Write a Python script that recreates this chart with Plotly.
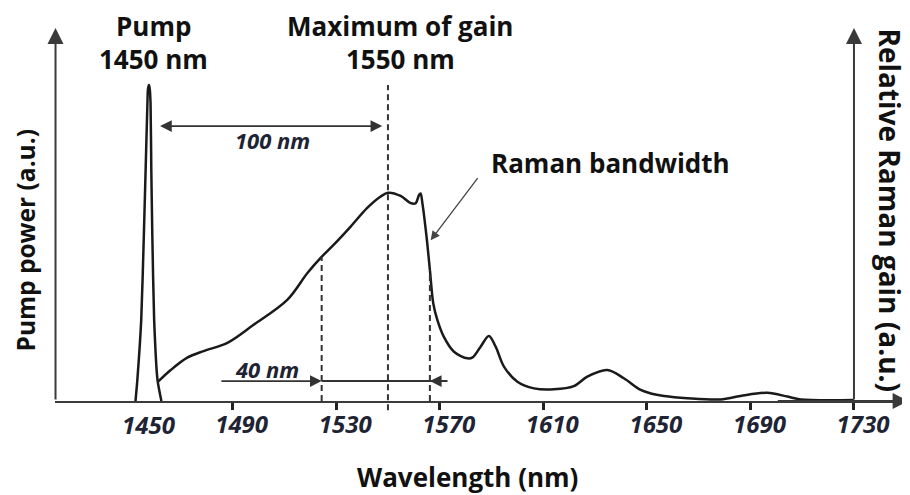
import plotly.graph_objects as go
import numpy as np

# ---------------- data ----------------
pump_wl = [1452.5, 1453.2, 1454.7, 1455.7, 1456.4, 1457.1, 1457.3, 1457.7,
           1458.0, 1458.3, 1458.6, 1459.0, 1459.7, 1461.0, 1462.5]
pump_power = [0.0, 0.066, 0.256, 0.519, 0.731, 0.943, 0.987, 1.0,
              0.987, 0.943, 0.731, 0.519, 0.256, 0.066, 0.0]

gain_wl = [1461.2, 1466.1, 1472.5, 1478.8, 1488.0, 1498.1, 1511.1, 1518.9,
           1524.0, 1529.0, 1535.6, 1542.0, 1547.2, 1550.0, 1554.9, 1558.8,
           1560.7, 1562.0, 1562.6, 1563.3, 1564.9, 1566.2, 1567.5, 1569.1,
           1571.6, 1575.5, 1580.7, 1582.7, 1585.8, 1589.0, 1591.6, 1594.8,
           1600.0, 1606.4, 1614.1, 1621.8, 1627.0, 1634.7, 1641.1, 1647.6,
           1651.5, 1656.6, 1665.6, 1678.5, 1686.2, 1696.5, 1704.3, 1709.4,
           1729.9]
gain_val = [0.061, 0.098, 0.137, 0.158, 0.184, 0.241, 0.320, 0.405,
            0.453, 0.494, 0.552, 0.611, 0.647, 0.659, 0.649, 0.626,
            0.626, 0.652, 0.657, 0.626, 0.520, 0.415, 0.309, 0.256,
            0.203, 0.156, 0.135, 0.138, 0.172, 0.206, 0.172, 0.109,
            0.061, 0.040, 0.037, 0.047, 0.077, 0.098, 0.072, 0.035,
            0.024, 0.016, 0.009, 0.005, 0.016, 0.026, 0.014, 0.005,
            0.003]

tick_values = [1490, 1530, 1570, 1610, 1650, 1690, 1730]
tick_labels = ["1490", "1530", "1570", "1610", "1650", "1690", "1730"]
pump_label = "1450"

gain_max_wl = 1550.0
bw_left_wl = 1524.4
bw_right_wl = 1566.2

# ---------------- geometry helpers ----------------
X0, X1 = 1421.4, 1751.64
Y0, Y1 = 0.0, 1.2057
x_axis_left = 1421.6
x_axis_right = 1730.0
y_arrow_top = 1.18

BOLD = dict(family="Open Sans", size=26, color="#111111", weight="bold")
ITAL = dict(family="Open Sans", size=24, color="#1e2434", style="italic", weight="bold")
LINE = "#1a1a1a"
AX = "#3a3a3a"


def yp(v):
    return (v - Y0) / (Y1 - Y0)


fig = go.Figure()

fig.add_trace(go.Scatter(x=pump_wl, y=pump_power, mode="lines",
                         line=dict(color=LINE, width=2.5, shape="spline", smoothing=0.6),
                         showlegend=False, hoverinfo="skip"))
fig.add_trace(go.Scatter(x=gain_wl, y=gain_val, mode="lines",
                         line=dict(color=LINE, width=2.5, shape="spline", smoothing=0.95),
                         showlegend=False, hoverinfo="skip"))

shapes = []
# dashed lines
shapes.append(dict(type="line", xref="x", yref="paper", x0=gain_max_wl, x1=gain_max_wl,
                   y0=-0.024, y1=yp(1.0), line=dict(color="#333", width=2, dash="6px,4px")))
for wl in (bw_left_wl, bw_right_wl):
    top = float(np.interp(wl, gain_wl, gain_val))
    shapes.append(dict(type="line", xref="x", yref="y", x0=wl, x1=wl, y0=0, y1=top,
                       line=dict(color="#333", width=2, dash="6px,4px")))
# 40 nm connecting segment
shapes.append(dict(type="line", xref="x", yref="y", x0=bw_left_wl, x1=bw_right_wl + 6.8,
                   y0=0.063, y1=0.063, line=dict(color="#333", width=2)))

ann = []


def arrow(x_head, y_head, x_tail, y_tail, width=2, size=1.2, head=2, color="#333", side="end"):
    ann.append(dict(x=x_head, y=y_head, ax=x_tail, ay=y_tail, xref="x", yref="y",
                    axref="x", ayref="y", text="", showarrow=True, arrowhead=head,
                    startarrowhead=head, arrowsize=size, startarrowsize=size,
                    arrowwidth=width, arrowcolor=color, arrowside=side))


# axes arrows
arrow(x_axis_left, y_arrow_top, x_axis_left, 0, width=2, size=1.6, color=AX)
arrow(x_axis_right, y_arrow_top, x_axis_right, 0, width=2, size=1.6, color=AX)
arrow(1751.1, 0, 1700, 0, width=2, size=1.6, color=AX)

# 100 nm double arrow
arrow(1547.8, 0.870, 1461.4, 0.870, width=1.8, size=1.3, side="end+start")
# 40 nm arrows
arrow(bw_left_wl, 0.063, 1485.1, 0.063, width=1.8, size=1.3)
arrow(bw_right_wl, 0.063, bw_right_wl + 6.8, 0.063, width=1.8, size=1.3)
# Raman bandwidth pointer
arrow(1566.5, 0.509, 1585.1, 0.710, width=1.3, size=1.4, color="#444")


def text(s, x, y, font, xref="x", yref="y", angle=0):
    ann.append(dict(text=s, x=x, y=y, xref=xref, yref=yref, showarrow=False,
                    font=font, textangle=angle, xanchor="center", yanchor="middle"))


text("Pump", 1459.5, 1.187, BOLD)
text("1450 nm", 1459.5, 1.081, BOLD)
text("Maximum of gain", 1554.5, 1.187, BOLD)
text("1550 nm", 1554.9, 1.081, BOLD)
text("Raman bandwidth", 1636.0, 0.753, BOLD)
text("100 nm", 1505.3, 0.826, dict(ITAL, size=22))
text("40 nm", 1503.1, 0.100, dict(ITAL, size=22))
text(pump_label, 1457.7, -0.0617, ITAL, yref="paper")
text("Wavelength (nm)", 0.4825, -0.2, BOLD, xref="paper", yref="paper")
text("Pump power (a.u.)", -0.0345, 0.4226, dict(BOLD, size=24.5), xref="paper", yref="paper", angle=-90)
text("Relative Raman gain (a.u.)", 1743.8, 0.604, dict(BOLD, size=28), angle=90)

# page body adds an 8px margin, so the figure is 8px smaller and margins shifted
fig.update_layout(
    width=902, height=487,
    margin=dict(l=47, r=0, t=12, b=94),
    paper_bgcolor="white", plot_bgcolor="white",
    shapes=shapes, annotations=ann,
    xaxis=dict(range=[X0, X1], showgrid=False, zeroline=False, automargin=False,
               showline=True, linecolor=AX, linewidth=2,
               ticks="outside", ticklen=7, tickwidth=3, tickcolor="#222",
               tickvals=tick_values, ticktext=tick_labels,
               tickfont=ITAL, ticklabelshift=9, ticklabelstandoff=-6),
    yaxis=dict(range=[Y0, Y1], visible=False, showgrid=False, zeroline=False),
)

fig.write_html("out.html")
